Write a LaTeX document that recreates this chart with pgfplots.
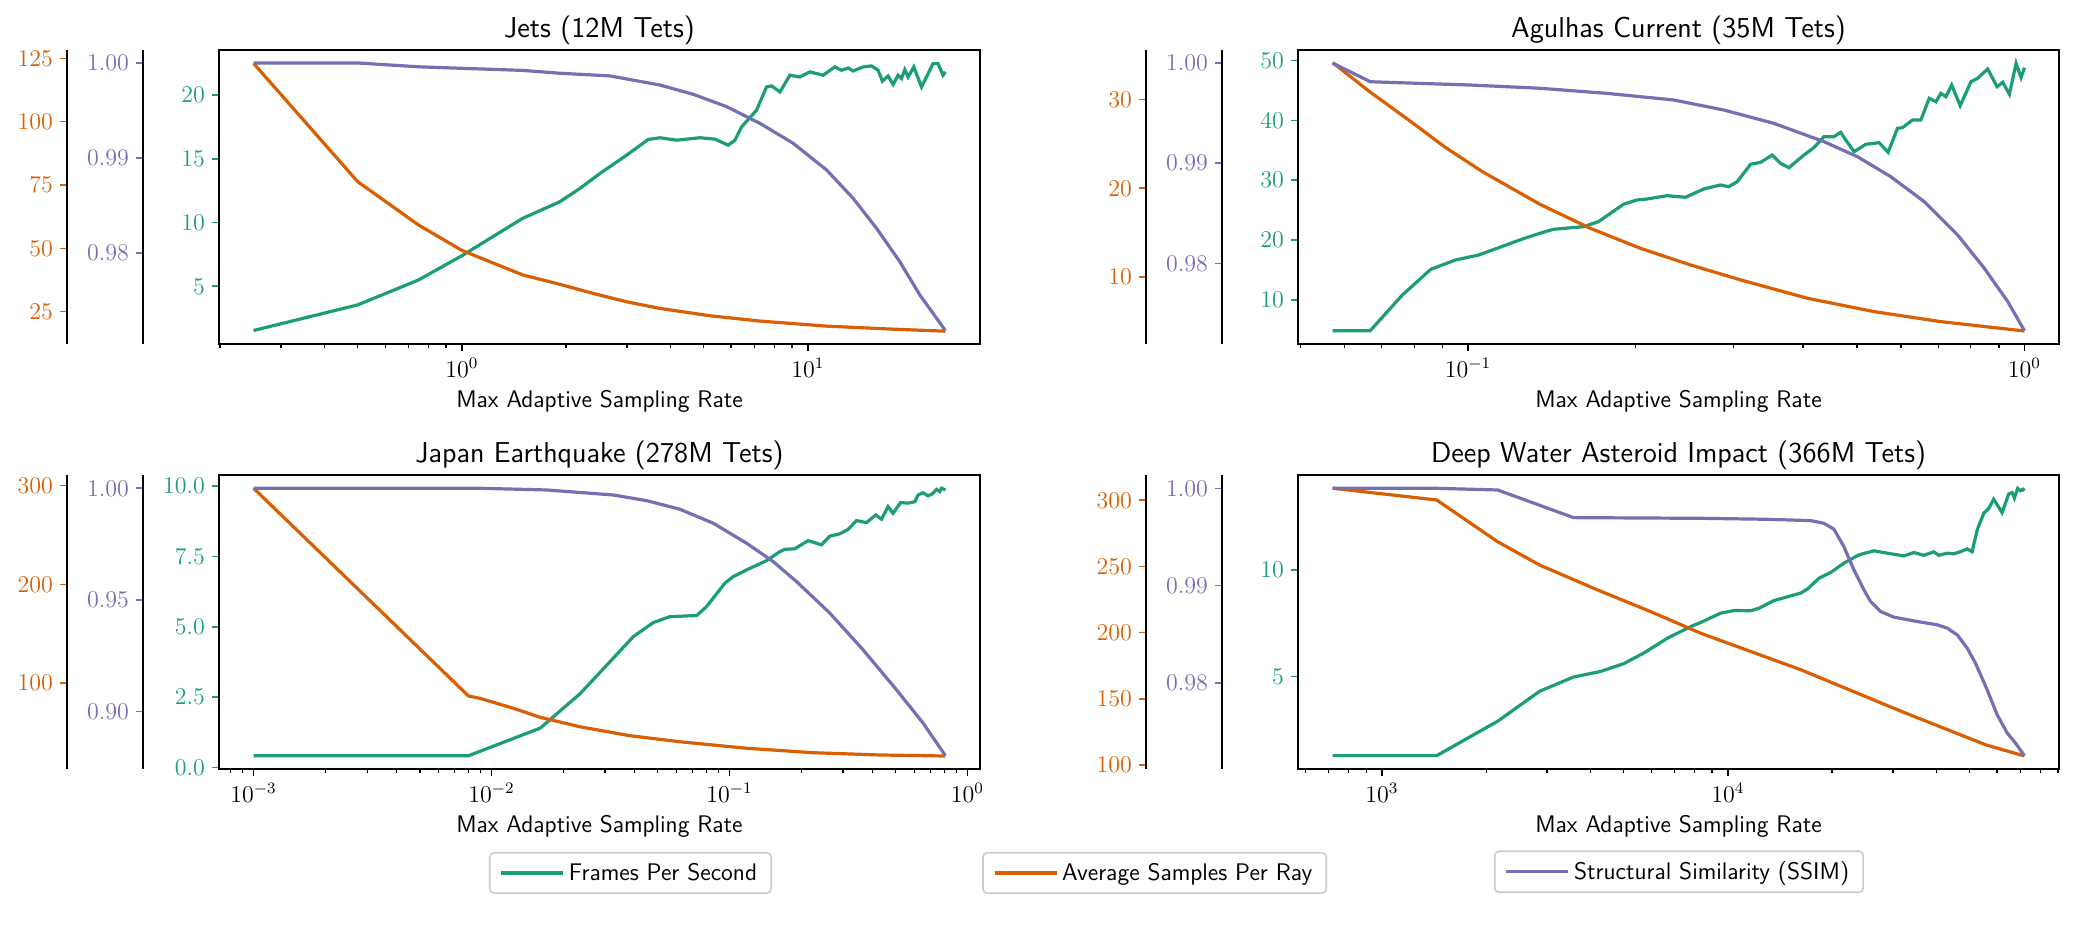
\documentclass[border=0pt]{standalone}
\usepackage{pgfplots}
\pgfplotsset{compat=1.18}

\definecolor{cgreen}{HTML}{1B9E77}
\definecolor{corange}{HTML}{D95F02}
\definecolor{cpurple}{HTML}{7570B3}

\tikzset{
  fps/.style={color=cgreen, line width=1.6pt},
  asr/.style={color=corange, line width=1.6pt},
  ssim/.style={color=cpurple, line width=1.6pt},
}

\pgfplotsset{
  panel/.style={anchor=south west, scale only axis, width=380.5pt, height=147pt},
  host/.style={panel,
    axis line style={line width=0.9pt},
    tick align=outside, xtick pos=left, ytick pos=left,
    major tick length=3.5pt, minor tick length=2pt,
    every major x tick/.append style={black, line width=0.8pt},
    every minor x tick/.append style={black, line width=0.6pt},
    every major y tick/.append style={cgreen, line width=0.8pt},
    yticklabel style={text=cgreen},
    tick label style={font=\fontsize{12}{14}\selectfont},
    scaled y ticks=false,
    title style={font=\sffamily\fontsize{14.4}{17}\selectfont,
      at={(axis description cs:0.5,1)}, anchor=base, yshift=0pt},
    xlabel={Max Adaptive Sampling Rate},
    xlabel style={font=\sffamily\fontsize{12}{14}\selectfont,
      at={(axis description cs:0.5,0)}, anchor=base, yshift=-32pt},
  },
  twin/.style={panel, hide axis},
  spine/.style={anchor=south west, scale only axis, width=1pt, height=147pt,
    xmin=0, xmax=1, hide x axis, axis y line*=left,
    tick align=outside, ytick pos=left, major tick length=3.5pt,
    axis line style={line width=0.8pt, black},
    every major y tick/.append style={#1, line width=0.8pt},
    yticklabel style={text=#1},
    tick label style={font=\fontsize{12}{14}\selectfont},
    scaled y ticks=false},
  legendbox/.style={anchor=center, scale only axis, width=1pt, height=1pt,
    hide axis, xmin=0, xmax=1, ymin=0, ymax=1,
    legend style={at={(0.5,0.5)}, anchor=center, draw=black!20, line width=0.8pt,
      rounded corners=2pt, font=\sffamily\fontsize{12}{14}\selectfont,
      inner xsep=5pt, inner ysep=3pt},
    legend image code/.code={\draw[##1] (0pt,0pt) -- (26pt,0pt); \path (0pt,0pt) -- (31pt,0pt);}},
  prec1/.style={yticklabel style={/pgf/number format/.cd, fixed, fixed zerofill, precision=1}},
  prec2/.style={yticklabel style={/pgf/number format/.cd, fixed, fixed zerofill, precision=2}},
}

\begin{document}
\begin{tikzpicture}
\useasboundingbox (0,0) rectangle (1041.5pt,468.5pt);

% ---------------- Jets (12M Tets) ----------------
\begin{semilogxaxis}[host, at={(109.5pt,296.5pt)}, xmin=0.19858, xmax=31.47,
  ymin=0.47, ymax=23.55, ytick={5,10,15,20}, title={Jets (12M Tets)}]
\addplot[fps] coordinates {(0.25,1.53) (0.5,3.54) (0.75,5.5) (1.0,7.4) (1.5,10.34) (1.921,11.64)
 (2.196,12.69) (2.508,13.86) (2.996,15.3) (3.459,16.53) (3.737,16.66) (4.18,16.47) (4.88,16.66)
 (5.39,16.55) (5.89,16.08) (6.16,16.47) (6.44,17.52) (7.11,18.82) (7.6,20.65) (7.86,20.73)
 (8.31,20.26) (8.88,21.57) (9.49,21.43) (10.14,21.83) (11.08,21.57) (11.97,22.22) (12.52,21.96)
 (13.08,22.14) (13.52,21.9) (14.45,22.22) (15.29,22.3) (15.97,21.96) (16.44,21.1) (17.07,21.51)
 (17.65,20.84) (18.24,21.57) (18.66,21.31) (19.08,22.01) (19.5,21.43) (20.26,22.22) (21.32,20.65)
 (22.04,21.43) (23.02,22.48) (23.8,22.48) (24.6,21.57) (25,21.83)};
\end{semilogxaxis}
\begin{semilogxaxis}[twin, at={(109.5pt,296.5pt)}, xmin=0.19858, xmax=31.47, ymin=12.25, ymax=128.3]
\addplot[asr] coordinates {(0.25,123) (0.5,76.3) (0.75,59.2) (1.0,49.2) (1.5,39.5) (1.921,35.8)
 (2.4,32.2) (2.996,28.9) (3.737,26.3) (5.21,23.4) (7.27,21.3) (11.33,19.3) (17.65,18.1) (25,17.3)};
\end{semilogxaxis}
\begin{semilogxaxis}[twin, at={(109.5pt,296.5pt)}, xmin=0.19858, xmax=31.47, ymin=0.97041, ymax=1.00137]
\addplot[ssim] coordinates {(0.25,1.0) (0.5,1.0) (0.75,0.9996) (1.0,0.99944) (1.5,0.99922)
 (1.921,0.99892) (2.68,0.99864) (3.737,0.99768) (4.667,0.9967) (5.83,0.9954) (7.27,0.99365)
 (9.07,0.99155) (11.33,0.98874) (13.52,0.98576) (15.8,0.9826) (18.45,0.97908) (21.08,0.97558)
 (25,0.97182)};
\end{semilogxaxis}
\begin{axis}[spine=corange, at={(33.5pt,296.5pt)}, ymin=12.25, ymax=128.3,
  ytick={25,50,75,100,125}]
\end{axis}
\begin{axis}[spine=cpurple, prec2, at={(71.5pt,296.5pt)}, ymin=0.97041, ymax=1.00137,
  ytick={0.98,0.99,1.00}]
\end{axis}

% ---------------- Agulhas Current (35M Tets) ----------------
\begin{semilogxaxis}[host, at={(649pt,296.5pt)}, xmin=0.04947, xmax=1.1539,
  ymin=2.59, ymax=51.79, ytick={10,20,30,40,50}, title={Agulhas Current (35M Tets)}]
\addplot[fps] coordinates {(0.0571,4.81) (0.0667,4.81) (0.0762,10.79) (0.0857,15.09)
 (0.0949,16.64) (0.1044,17.48) (0.1148,18.87) (0.1263,20.28) (0.1346,21.11) (0.1423,21.78)
 (0.1612,22.22) (0.1715,23.05) (0.1903,25.97) (0.2011,26.69) (0.2097,26.85) (0.2278,27.41)
 (0.2459,27.14) (0.2652,28.53) (0.2842,29.2) (0.2941,28.91) (0.3046,29.75) (0.3219,32.66)
 (0.3355,32.99) (0.3522,34.21) (0.3645,32.82) (0.3774,32.09) (0.4015,34.21) (0.4183,35.44)
 (0.4362,37.28) (0.4546,37.28) (0.4675,38.01) (0.4774,36.73) (0.4942,34.77) (0.5186,36.01)
 (0.5481,36.28) (0.5689,34.67) (0.5914,38.69) (0.6038,38.79) (0.6293,40.08) (0.6515,40.08)
 (0.6745,43.71) (0.6934,43.14) (0.7079,44.54) (0.7228,43.98) (0.74,45.93) (0.7667,42.47)
 (0.8015,46.49) (0.824,47.05) (0.859,48.61) (0.8931,45.65) (0.9144,46.38) (0.9397,44.38)
 (0.9661,49.56) (0.9863,47.16) (1.0,48.83)};
\end{semilogxaxis}
\begin{semilogxaxis}[twin, at={(649pt,296.5pt)}, xmin=0.04947, xmax=1.1539, ymin=2.44, ymax=35.6]
\addplot[asr] coordinates {(0.0571,34.17) (0.0667,30.85) (0.0782,27.71) (0.0911,24.6)
 (0.1061,21.88) (0.1346,18.2) (0.1657,15.5) (0.2039,13.24) (0.2509,11.36) (0.3088,9.67)
 (0.4073,7.6) (0.5368,6.09) (0.7079,4.96) (0.85,4.4) (1.0,3.91)};
\end{semilogxaxis}
\begin{semilogxaxis}[twin, at={(649pt,296.5pt)}, xmin=0.04947, xmax=1.1539, ymin=0.97195, ymax=1.0013]
\addplot[ssim] coordinates {(0.0571,1.0) (0.0667,0.99813) (0.1011,0.9978) (0.1346,0.99748)
 (0.1776,0.99697) (0.2342,0.99631) (0.2881,0.99531) (0.3544,0.99398) (0.4362,0.99215)
 (0.5009,0.99065) (0.5753,0.98865) (0.6604,0.98616) (0.7586,0.98283) (0.8471,0.97951)
 (0.9335,0.97618) (1.0,0.97328)};
\end{semilogxaxis}
\begin{axis}[spine=corange, at={(573pt,296.5pt)}, ymin=2.44, ymax=35.6, ytick={10,20,30}]
\end{axis}
\begin{axis}[spine=cpurple, prec2, at={(611pt,296.5pt)}, ymin=0.97195, ymax=1.0013,
  ytick={0.98,0.99,1.00}]
\end{axis}

% ---------------- Japan Earthquake (278M Tets) ----------------
\begin{semilogxaxis}[host, prec1, at={(109.5pt,84pt)}, xmin=7.155e-4, xmax=1.129,
  ymin=-0.05, ymax=10.39, ytick={0,2.5,5,7.5,10}, title={Japan Earthquake (278M Tets)}]
\addplot[fps] coordinates {(0.001,0.42) (0.008,0.42) (0.016,1.4) (0.02353,2.62) (0.03146,3.76)
 (0.03942,4.65) (0.04782,5.15) (0.05621,5.36) (0.07277,5.4) (0.08014,5.72) (0.09566,6.55)
 (0.1036,6.78) (0.118,7.02) (0.1432,7.35) (0.1628,7.67) (0.1709,7.75) (0.1882,7.77) (0.214,8.06)
 (0.2436,7.91) (0.264,8.22) (0.2908,8.3) (0.315,8.46) (0.3417,8.77) (0.3763,8.7) (0.4117,8.97)
 (0.4351,8.82) (0.4638,9.27) (0.4868,9.03) (0.5231,9.41) (0.5627,9.39) (0.6004,9.44)
 (0.6199,9.68) (0.6505,9.76) (0.6829,9.65) (0.7124,9.72) (0.7405,9.88) (0.7646,9.8)
 (0.7774,9.92) (0.808,9.86)};
\end{semilogxaxis}
\begin{semilogxaxis}[twin, at={(109.5pt,84pt)}, xmin=7.155e-4, xmax=1.129, ymin=12.9, ymax=310.8]
\addplot[asr] coordinates {(0.001,297.4) (0.008,86.9) (0.00895,84.5) (0.01235,74.4)
 (0.01599,65.3) (0.02353,55.7) (0.0382,46.6) (0.06189,40.5) (0.118,33.9) (0.2247,29.4)
 (0.4281,27.1) (0.808,26.05)};
\end{semilogxaxis}
\begin{semilogxaxis}[twin, at={(109.5pt,84pt)}, xmin=7.155e-4, xmax=1.129, ymin=0.8743, ymax=1.00595]
\addplot[ssim] coordinates {(0.001,1.0) (0.008,1.0) (0.00895,1.0) (0.01706,0.99924)
 (0.03249,0.997) (0.04487,0.99446) (0.06189,0.99061) (0.08544,0.98435) (0.118,0.9754)
 (0.1526,0.96717) (0.1913,0.95823) (0.264,0.9441) (0.3641,0.92768) (0.5029,0.90979)
 (0.6505,0.8949) (0.808,0.88028)};
\end{semilogxaxis}
\begin{axis}[spine=corange, at={(33.5pt,84pt)}, ymin=12.9, ymax=310.8, ytick={100,200,300}]
\end{axis}
\begin{axis}[spine=cpurple, prec2, at={(71.5pt,84pt)}, ymin=0.8743, ymax=1.00595,
  ytick={0.90,0.95,1.00}]
\end{axis}

% ---------------- Deep Water Asteroid Impact (366M Tets) ----------------
\begin{semilogxaxis}[host, at={(649pt,84pt)}, xmin=571.9, xmax=90644,
  ymin=0.64, ymax=14.48, ytick={5,10}, title={Deep Water Asteroid Impact (366M Tets)}]
\addplot[fps] coordinates {(720,1.27) (1440,1.27) (2160,2.89) (2857,4.3) (3580,4.97)
 (4281,5.23) (5000,5.6) (5716,6.1) (6691,6.8) (7823,7.35) (8352,7.54) (9539,7.98) (10420,8.1)
 (11650,8.09) (12310,8.21) (13600,8.57) (16230,8.92) (16980,9.11) (18340,9.62) (19820,9.89)
 (21650,10.33) (23920,10.72) (26430,10.91) (28890,10.8) (32270,10.67) (34490,10.83)
 (36860,10.7) (39390,10.86) (40720,10.7) (43060,10.8) (45000,10.77) (47040,10.87) (49180,11.0)
 (50840,10.87) (52550,11.89) (54920,12.68) (56770,12.91) (58690,13.34) (62060,12.71)
 (64850,13.59) (66330,13.65) (67350,13.39) (68840,13.85) (70080,13.74) (71350,13.81)
 (72000,13.74)};
\end{semilogxaxis}
\begin{semilogxaxis}[twin, at={(649pt,84pt)}, xmin=571.9, xmax=90644, ymin=97.05, ymax=319.1]
\addplot[asr] coordinates {(720,309.1) (1440,300.2) (2160,268.7) (2857,251.1) (4200,232.3)
 (5984,215.9) (8361,199.5) (16330,171.8) (31920,140.3) (55790,115.2) (72000,106.9)};
\end{semilogxaxis}
\begin{semilogxaxis}[twin, at={(649pt,84pt)}, xmin=571.9, xmax=90644, ymin=0.97117, ymax=1.00137]
\addplot[ssim] coordinates {(720,1.0) (1440,1.0) (2160,0.99983) (3580,0.99699) (8352,0.99692)
 (13015,0.99682) (17356,0.99668) (18960,0.99641) (20260,0.9958) (21650,0.99401)
 (23140,0.99162) (24740,0.98957) (25860,0.98837) (27640,0.98734) (30190,0.98677)
 (35270,0.98632) (40290,0.98598) (43060,0.98564) (46020,0.98495) (49180,0.98359)
 (51960,0.98205) (56170,0.97931) (60030,0.97675) (64170,0.97487) (67790,0.97385)
 (72000,0.97254)};
\end{semilogxaxis}
\begin{axis}[spine=corange, at={(573pt,84pt)}, ymin=97.05, ymax=319.1,
  ytick={100,150,200,250,300}]
\end{axis}
\begin{axis}[spine=cpurple, prec2, at={(611pt,84pt)}, ymin=0.97117, ymax=1.00137,
  ytick={0.98,0.99,1.00}]
\end{axis}

% ---------------- legends ----------------
\begin{axis}[legendbox, at={(315.2pt,32pt)}]
\addlegendimage{fps}
\addlegendentry{Frames Per Second}
\end{axis}
\begin{axis}[legendbox, at={(577.3pt,32pt)}]
\addlegendimage{asr}
\addlegendentry{Average Samples Per Ray}
\end{axis}
\begin{axis}[legendbox, at={(839.5pt,32.6pt)}]
\addlegendimage{ssim}
\addlegendentry{Structural Similarity (SSIM)}
\end{axis}
\end{tikzpicture}
\end{document}
